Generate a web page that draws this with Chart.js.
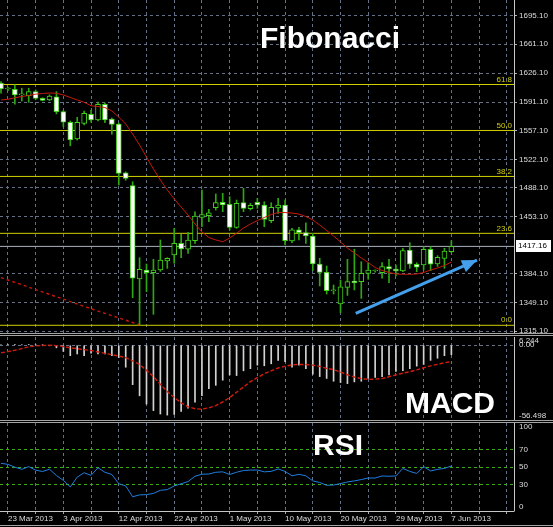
<!DOCTYPE html>
<html>
<head>
<meta charset="utf-8">
<title>Gold Daily – Fibonacci, MACD, RSI</title>
<script src="https://cdn.jsdelivr.net/npm/chart.js@4.4.1/dist/chart.umd.min.js"></script>
<style>
  html, body { margin: 0; padding: 0; background: #000; }
  #stage { position: relative; width: 553px; height: 527px; background: #000; overflow: hidden; }
  .pane { position: absolute; left: 0; width: 553px; }
  .pane canvas { display: block; }
  .rule { position: absolute; left: 0; width: 553px; height: 1px; background: #a4a4a4; }
  .caption { position: absolute; color: #fff; font: bold 30px/30px "Liberation Sans", Arial, sans-serif; white-space: nowrap; }
</style>
</head>
<body>
<div id="stage">
  <div class="pane" style="top:0;height:333px"><canvas id="priceChart" width="553" height="333"></canvas></div>
  <div class="pane" style="top:337px;height:83px"><canvas id="macdChart" width="553" height="83"></canvas></div>
  <div class="pane" style="top:423px;height:104px"><canvas id="rsiChart" width="553" height="104"></canvas></div>
  <div class="rule" style="top:333px"></div>
  <div class="rule" style="top:335px"></div>
  <div class="rule" style="top:420px"></div>
  <div class="rule" style="top:422px"></div>
  <div class="rule" style="top:525px"></div>
  <div class="caption" style="left:260px;top:23px">Fibonacci</div>
  <div class="caption" style="left:405px;top:388px">MACD</div>
  <div class="caption" style="left:313px;top:430px">RSI</div>
</div>
<script>
// ---------- data ----------
const tickDates    = ['23 Mar 2013', '3 Apr 2013', '12 Apr 2013', '22 Apr 2013', '1 May 2013',
                      '10 May 2013', '20 May 2013', '29 May 2013', '7 Jun 2013'];
const tickDateBars = [1, 9, 17, 25, 33, 41, 49, 57, 65];
const gridBars     = [1, 5, 9, 13, 17, 21, 25, 29, 33, 37, 41, 45, 49, 53, 57, 61, 65, 69, 73];

const opens = [1614.3, 1607.0, 1606.7, 1600.0, 1598.9, 1603.8, 1595.8, 1594.0, 1597.7, 1579.7,
               1566.9, 1546.7, 1565.6, 1576.5, 1569.6, 1588.6, 1570.8, 1564.8, 1506.0, 1490.4,
               1377.8, 1388.7, 1385.4, 1388.7, 1399.5, 1406.8, 1420.9, 1413.7, 1424.0, 1452.0,
               1454.2, 1463.8, 1470.3, 1467.9, 1440.1, 1469.9, 1462.7, 1470.3, 1467.1, 1448.2,
               1463.5, 1467.1, 1423.7, 1437.0, 1433.7, 1429.7, 1395.9, 1385.9, 1363.7, 1347.7,
               1367.8, 1375.4, 1374.6, 1384.7, 1387.5, 1385.4, 1392.7, 1389.9, 1387.5, 1412.8,
               1395.6, 1394.7, 1413.7, 1395.9, 1402.8, 1410.8];
const highs = [1616.0, 1609.0, 1612.0, 1608.0, 1608.0, 1606.0, 1596.5, 1600.0, 1604.0, 1581.0,
               1568.4, 1572.9, 1580.5, 1581.7, 1591.3, 1590.1, 1572.0, 1566.0, 1507.0, 1495.2,
               1403.5, 1395.9, 1401.6, 1424.9, 1403.5, 1439.0, 1431.8, 1434.2, 1459.0, 1485.2,
               1461.9, 1480.4, 1481.2, 1477.1, 1473.1, 1487.2, 1469.1, 1475.2, 1471.1, 1469.9,
               1475.2, 1473.1, 1439.0, 1440.2, 1445.7, 1433.0, 1402.8, 1393.5, 1370.6, 1376.6,
               1401.6, 1413.7, 1398.7, 1397.5, 1389.0, 1397.5, 1401.6, 1394.7, 1414.9, 1421.6,
               1397.5, 1416.8, 1416.8, 1406.0, 1414.9, 1424.0];
const lows  = [1602.0, 1605.0, 1588.6, 1592.5, 1591.0, 1594.0, 1592.8, 1593.0, 1577.0, 1561.5,
               1538.6, 1545.5, 1563.6, 1567.0, 1568.4, 1566.4, 1552.4, 1491.2, 1497.0, 1355.3,
               1322.3, 1362.5, 1335.2, 1387.0, 1390.7, 1396.8, 1403.5, 1408.8, 1420.9, 1440.9,
               1446.9, 1461.0, 1459.0, 1436.9, 1439.0, 1459.0, 1461.0, 1463.1, 1440.9, 1445.7,
               1457.0, 1418.8, 1421.6, 1424.9, 1420.9, 1387.9, 1369.4, 1359.7, 1359.7, 1337.2,
               1358.0, 1364.6, 1354.5, 1377.5, 1386.0, 1378.7, 1373.4, 1381.4, 1386.6, 1390.7,
               1386.6, 1388.7, 1387.9, 1393.0, 1390.7, 1409.5];
const closes = [1607.0, 1608.0, 1599.8, 1600.6, 1603.8, 1595.8, 1593.4, 1598.6, 1579.7, 1566.9,
                1545.5, 1566.9, 1577.7, 1569.6, 1588.6, 1569.6, 1564.4, 1505.3, 1499.3, 1378.7,
                1389.5, 1385.4, 1388.5, 1400.7, 1402.7, 1420.9, 1414.0, 1424.9, 1453.8, 1455.5,
                1457.8, 1469.9, 1467.1, 1440.1, 1469.1, 1463.1, 1466.7, 1467.1, 1449.8, 1464.3,
                1467.0, 1424.0, 1437.0, 1433.7, 1429.7, 1395.9, 1385.9, 1363.7, 1364.5, 1368.5,
                1374.6, 1373.4, 1384.7, 1388.7, 1388.0, 1392.7, 1389.9, 1387.5, 1412.0, 1395.6,
                1392.0, 1413.7, 1395.6, 1404.0, 1411.6, 1417.16];

// moving average drawn over the candles
const maLine = [1593.8, 1594.6, 1596.5, 1598.0, 1599.2, 1600.8, 1601.6, 1602.2, 1601.9, 1599.8,
                1596.8, 1593.8, 1591.0, 1586.8, 1585.9, 1584.7, 1580.5, 1573.2, 1564.8, 1552.7,
                1539.5, 1525.0, 1510.5, 1497.3, 1485.2, 1474.4, 1464.7, 1455.0, 1444.2, 1434.6,
                1427.9, 1424.9, 1422.8, 1427.3, 1433.0, 1439.3, 1444.2, 1448.4, 1452.0, 1455.6,
                1458.0, 1458.0, 1457.4, 1456.2, 1453.2, 1449.0, 1443.0, 1436.3, 1429.7, 1422.5,
                1415.2, 1409.2, 1403.2, 1397.7, 1391.7, 1388.1, 1385.7, 1383.9, 1383.5, 1383.5,
                1383.9, 1385.7, 1388.7, 1391.1, 1394.1, 1398.3];
// dotted falling line in the lower left of the price pane
const fallingLine = [1379.5, 1376.6, 1373.8, 1370.9, 1368.0, 1365.1, 1362.2, 1359.3, 1356.4, 1353.5,
                     1350.6, 1347.7, 1344.8, 1341.9, 1339.1, 1336.4, 1333.6, 1330.9, 1328.1, 1325.4, 1322.6];

const priceTicks = [1695.10, 1661.10, 1626.10, 1591.10, 1557.10, 1522.10, 1488.10, 1453.10, 1384.10, 1349.10, 1315.10];
const lastPrice  = 1417.16;

const fibLow    = 1322.0;
const fibHigh   = 1792.0;
const fibLevels = [0.0, 23.6, 38.2, 50.0, 61.8];

const arrowStart = { bar: 51.2, price: 1336.3 };
const arrowEnd   = { bar: 68.7, price: 1400.7 };

const macdHist = [0.4, 0.6, 0.5, 0.3, 0.5, 0.4, 0.2, -0.4, -1.9, -4.6,
                  -7.9, -6.6, -7.9, -6.0, -6.6, -6.6, -7.9, -9.3, -16.6, -29.8,
                  -38.2, -44.4, -49.4, -52.0, -52.8, -52.3, -50.1, -47.5, -43.0, -38.2,
                  -32.9, -30.3, -26.4, -22.4, -22.9, -19.3, -17.7, -15.0, -15.5, -14.0,
                  -11.4, -12.4, -16.6, -15.0, -17.7, -21.9, -23.7, -25.1, -27.2, -28.2,
                  -29.0, -27.7, -27.2, -25.1, -24.3, -23.7, -22.4, -19.8, -19.3, -17.7,
                  -15.8, -14.5, -11.4, -9.8, -7.9, -7.1];
const macdSignal = [-5.8, -4.8, -3.8, -2.5, -1.2, -0.5, -0.2, 0.0, -0.3, -1.0,
                    -1.9, -2.6, -3.3, -4.0, -5.0, -6.1, -7.1, -8.2, -9.3, -11.8,
                    -14.5, -19.0, -23.7, -29.5, -35.0, -39.5, -43.5, -46.5, -48.0, -48.3,
                    -47.3, -45.6, -42.8, -39.6, -35.5, -31.5, -27.5, -24.5, -21.5, -19.3,
                    -17.2, -15.9, -14.8, -14.5, -14.6, -15.0, -16.0, -17.5, -18.4, -20.2,
                    -22.3, -24.0, -25.2, -25.8, -25.6, -25.2, -23.8, -22.4, -21.1, -20.0,
                    -18.6, -17.0, -15.6, -14.4, -13.2, -12.4];
const macdMin = -56.498;
const macdMax = 6.244;
const macdAxisValues = [6.244, 0, -56.498];
const macdAxisText   = ['6.244', '0.00', '-56.498'];

const rsiValues = [54.2, 53.0, 49.8, 47.4, 50.4, 46.4, 44.9, 47.5, 40.3, 34.8,
                   27.4, 38.5, 43.5, 40.5, 49.2, 44.0, 41.5, 31.0, 28.5, 16.2,
                   18.3, 18.6, 20.0, 23.5, 24.3, 28.5, 31.0, 33.5, 39.5, 41.8,
                   42.0, 44.0, 44.5, 41.5, 44.0, 46.0, 46.5, 46.6, 44.5, 45.0,
                   47.8, 45.0, 40.0, 41.7, 40.0, 34.2, 32.4, 29.2, 29.5, 31.2,
                   33.0, 34.2, 35.7, 37.5, 37.5, 39.8, 39.5, 39.8, 48.4, 45.0,
                   42.7, 50.4, 45.5, 47.3, 48.4, 51.2];
const rsiLevels     = [30, 50, 70];
const rsiAxisValues = [100, 70, 50, 30, 0];

// ---------- styling ----------
const FONT = '"Liberation Sans", Arial, sans-serif';
const GRID = '#657186';
const AXIS_TEXT = '#dcdcdc';
const FIB_COLOR = '#d0d000';
const WICK = '#2ea812';
const EDGE = '#41d11b';
const ARROW = '#45a0ec';
const X_MIN = -0.144, X_MAX = 74.04;
const PRICE_MIN = 1312.69, PRICE_MAX = 1714.4;

const xy = arr => arr.map((v, i) => ({ x: i, y: v }));
const fibPrice = lvl => fibLow + (fibHigh - fibLow) * lvl / 100;

function baseOptions() {
  return {
    responsive: false, animation: false, events: [],
    layout: { padding: 0 },
    plugins: { legend: { display: false }, tooltip: { enabled: false } }
  };
}

// fixed-width right axis with no label overhang padding
function fitRight(s) { s.width = 39; s.paddingTop = 0; s.paddingBottom = 0; }

function xAxis(withLabels) {
  return {
    type: 'linear', min: X_MIN, max: X_MAX, offset: false,
    afterBuildTicks: s => { s.ticks = gridBars.map(v => ({ value: v })); },
    afterFit: s => { s.height = withLabels ? 16 : 0; s.paddingLeft = 0; s.paddingRight = 0; },
    grid: { offset: false, color: GRID, lineWidth: 1, drawTicks: withLabels, tickLength: 3,
            tickColor: '#a0a8b4', tickBorderDash: [] },
    border: { display: false, dash: [3, 3] },
    ticks: {
      display: withLabels, autoSkip: false, maxRotation: 0, minRotation: 0, align: 'start', padding: 0,
      color: AXIS_TEXT, font: { family: FONT, size: 8 },
      callback: v => { const k = tickDateBars.indexOf(v); return k >= 0 ? tickDates[k] : ''; }
    }
  };
}

// right edge of every pane (and optional bottom edge)
const paneEdge = {
  id: 'paneEdge',
  afterDraw(chart, args, opts) {
    const { ctx, chartArea: a } = chart;
    const xr = Math.round(a.right) + 0.5;
    ctx.save();
    ctx.strokeStyle = '#c6c6c6'; ctx.lineWidth = 1;
    ctx.beginPath();
    ctx.moveTo(xr, a.top); ctx.lineTo(xr, a.bottom);
    if (opts && opts.bottom) {
      const yb = Math.round(a.bottom) + 0.5;
      ctx.moveTo(0, yb); ctx.lineTo(xr, yb);
    }
    ctx.stroke();
    ctx.restore();
  }
};

// value labels of the indicator panes, kept inside the pane
const sideLabels = {
  id: 'sideLabels',
  afterDraw(chart, args, opts) {
    if (!opts || !opts.values) return;
    const { ctx, chartArea: a, scales: { y } } = chart;
    ctx.save();
    ctx.font = '8px ' + FONT; ctx.fillStyle = AXIS_TEXT;
    ctx.textAlign = 'left'; ctx.textBaseline = 'middle';
    opts.values.forEach((v, k) => {
      let py = y.getPixelForValue(v);
      py = Math.min(Math.max(py, a.top + opts.inset), a.bottom - opts.inset);
      ctx.fillText(opts.texts[k], a.right + 5, py);
    });
    ctx.restore();
  }
};

const fibLabels = {
  id: 'fibLabels',
  afterDatasetsDraw(chart) {
    const { ctx, chartArea: a, scales: { y } } = chart;
    ctx.save();
    ctx.font = '8px ' + FONT; ctx.fillStyle = FIB_COLOR;
    ctx.textAlign = 'right'; ctx.textBaseline = 'bottom';
    fibLevels.forEach(l => ctx.fillText(l.toFixed(1), a.right - 2, y.getPixelForValue(fibPrice(l)) - 1));
    ctx.restore();
  }
};

const priceTag = {
  id: 'priceTag',
  afterDraw(chart) {
    const { ctx, chartArea: a, scales: { y } } = chart;
    const py = Math.round(y.getPixelForValue(lastPrice));
    ctx.save();
    ctx.fillStyle = '#ffffff';
    ctx.fillRect(a.right + 2, py - 6, 35, 12);
    ctx.font = '8px ' + FONT; ctx.fillStyle = '#000';
    ctx.textAlign = 'left'; ctx.textBaseline = 'middle';
    ctx.fillText(lastPrice.toFixed(2), a.right + 4, py);
    ctx.restore();
  }
};

const arrowHead = {
  id: 'arrowHead',
  afterDatasetsDraw(chart) {
    const idx = chart.data.datasets.findIndex(d => d.label === 'trend arrow');
    if (idx < 0) return;
    const [p0, p1] = chart.getDatasetMeta(idx).data;
    const ang = Math.atan2(p1.y - p0.y, p1.x - p0.x);
    const len = 15, half = 6.5;
    const bx = p1.x - len * Math.cos(ang), by = p1.y - len * Math.sin(ang);
    const ctx = chart.ctx;
    ctx.save();
    ctx.fillStyle = ARROW;
    ctx.beginPath();
    ctx.moveTo(p1.x, p1.y);
    ctx.lineTo(bx + half * Math.sin(ang), by - half * Math.cos(ang));
    ctx.lineTo(bx - half * Math.sin(ang), by + half * Math.cos(ang));
    ctx.closePath(); ctx.fill();
    ctx.restore();
  }
};

// ---------- price pane ----------
const fibSets = fibLevels.map(l => ({
  type: 'line', label: 'fib ' + l, order: 10,
  data: [{ x: X_MIN, y: fibPrice(l) }, { x: X_MAX, y: fibPrice(l) }],
  borderColor: FIB_COLOR, borderWidth: 1, pointRadius: 0
}));

new Chart(document.getElementById('priceChart'), {
  type: 'bar',
  data: {
    datasets: [
      ...fibSets,
      { type: 'line', label: 'bid', order: 9,
        data: [{ x: X_MIN, y: lastPrice }, { x: X_MAX, y: lastPrice }],
        borderColor: '#aab2c0', borderWidth: 1, pointRadius: 0 },
      { type: 'line', label: 'falling', order: 8, data: xy(fallingLine),
        borderColor: '#c8180a', borderWidth: 1.4, borderDash: [3, 3], pointRadius: 0 },
      { type: 'bar', label: 'wicks', order: 6, grouped: false,
        data: lows.map((l, i) => ({ x: i, y: [l, highs[i]] })),
        backgroundColor: WICK, borderWidth: 0, barThickness: 1 },
      { type: 'bar', label: 'bodies', order: 5, grouped: false,
        data: opens.map((o, i) => ({ x: i, y: [o, closes[i]] })),
        backgroundColor: c => closes[c.dataIndex] < opens[c.dataIndex] ? '#ffffff' : '#000000',
        borderColor: EDGE, borderWidth: 1, borderSkipped: false, barThickness: 5, minBarLength: 1 },
      { type: 'line', label: 'ma', order: 3, data: xy(maLine),
        borderColor: '#c8180a', borderWidth: 1, pointRadius: 0 },
      { type: 'line', label: 'trend arrow', order: 1,
        data: [{ x: arrowStart.bar, y: arrowStart.price }, { x: arrowEnd.bar, y: arrowEnd.price }],
        borderColor: ARROW, borderWidth: 3, pointRadius: 0 }
    ]
  },
  options: Object.assign(baseOptions(), {
    scales: {
      x: xAxis(false),
      y: {
        position: 'right', min: PRICE_MIN, max: PRICE_MAX,
        afterBuildTicks: s => { s.ticks = priceTicks.map(v => ({ value: v })); },
        afterFit: fitRight,
        grid: { color: GRID, drawTicks: true, tickLength: 3, tickColor: '#b4b4b4', tickBorderDash: [] },
        border: { display: false, dash: [3, 3] },
        ticks: { autoSkip: false, padding: 2, color: AXIS_TEXT, font: { family: FONT, size: 8 },
                 callback: v => Number(v).toFixed(2) }
      }
    }
  }),
  plugins: [paneEdge, fibLabels, priceTag, arrowHead]
});

// ---------- MACD pane ----------
const macdOpts = baseOptions();
macdOpts.plugins.sideLabels = { values: macdAxisValues, texts: macdAxisText, inset: 4 };
macdOpts.scales = {
  x: xAxis(false),
  y: {
    position: 'right', min: macdMin, max: macdMax,
    afterBuildTicks: s => { s.ticks = [{ value: 0 }]; },
    afterFit: fitRight,
    grid: { color: GRID, drawTicks: false },
    border: { display: false, dash: [3, 3] },
    ticks: { display: false }
  }
};
new Chart(document.getElementById('macdChart'), {
  type: 'bar',
  data: {
    datasets: [
      { type: 'line', label: 'signal', order: 1, data: xy(macdSignal),
        borderColor: '#d41c0c', borderWidth: 1.4, borderDash: [4, 2], pointRadius: 0 },
      { type: 'bar', label: 'macd', order: 2, grouped: false, data: xy(macdHist),
        backgroundColor: '#d2d2d2', borderWidth: 0, barThickness: 1 }
    ]
  },
  options: macdOpts,
  plugins: [paneEdge, sideLabels]
});

// ---------- RSI pane ----------
const rsiOpts = baseOptions();
rsiOpts.plugins.sideLabels = { values: rsiAxisValues, texts: rsiAxisValues.map(String), inset: 4 };
rsiOpts.plugins.paneEdge = { bottom: true };
rsiOpts.scales = {
  x: xAxis(true),
  y: {
    position: 'right', min: 0, max: 100,
    afterBuildTicks: s => { s.ticks = rsiLevels.map(v => ({ value: v })); },
    afterFit: fitRight,
    grid: { color: '#3eae16', drawTicks: false },
    border: { display: false, dash: [3, 3] },
    ticks: { display: false }
  }
};
new Chart(document.getElementById('rsiChart'), {
  type: 'line',
  data: {
    datasets: [
      { label: 'RSI', data: xy(rsiValues), borderColor: '#1f7ee0', borderWidth: 1, pointRadius: 0 }
    ]
  },
  options: rsiOpts,
  plugins: [paneEdge, sideLabels]
});
</script>
</body>
</html>
